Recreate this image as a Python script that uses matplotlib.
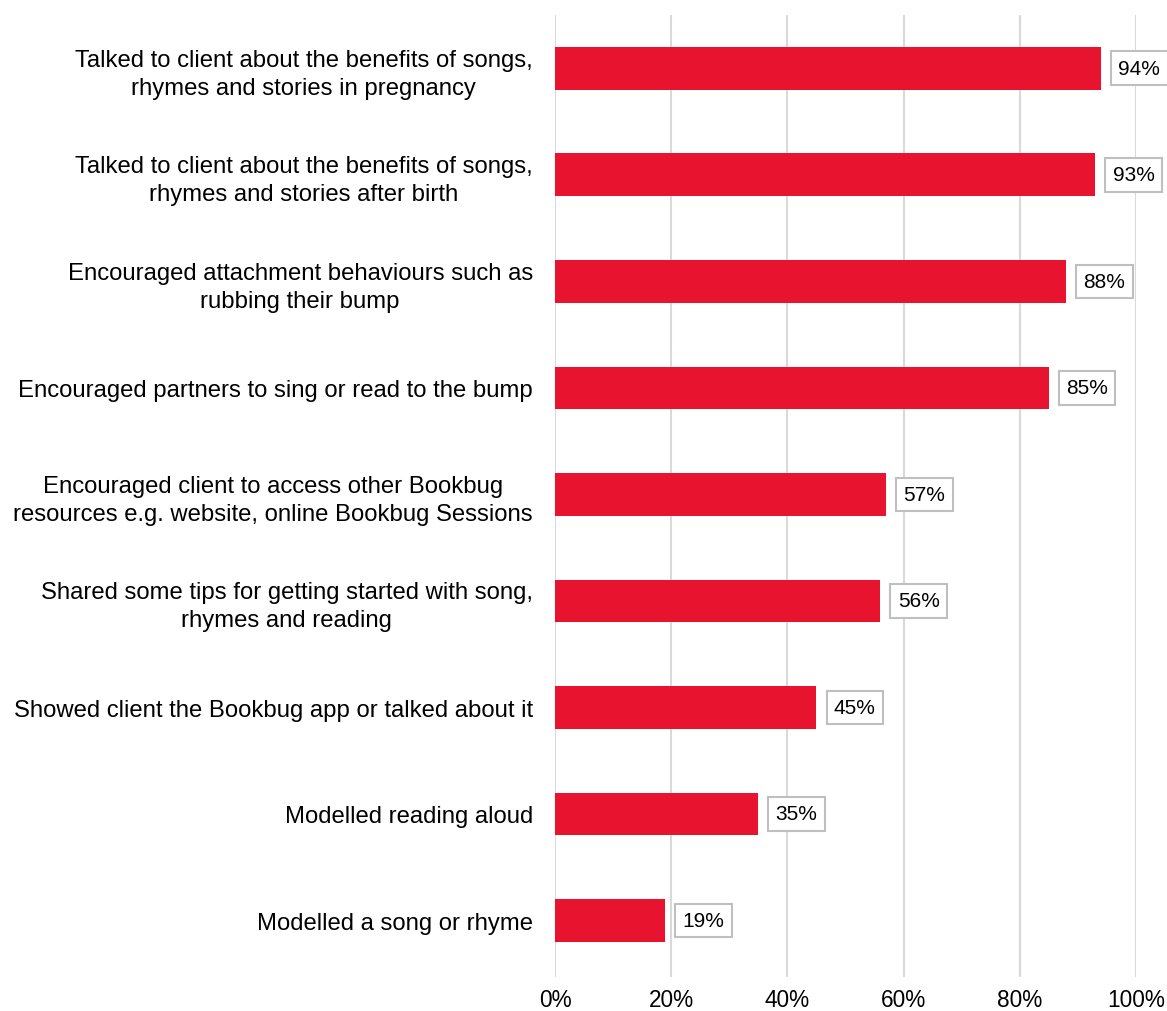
import numpy as np
import matplotlib
matplotlib.use("Agg")
import matplotlib.pyplot as plt
from matplotlib import ticker

plt.rcParams['font.family'] = ['Liberation Sans', 'DejaVu Sans']

categories = [
    "Talked to client about the benefits of songs,\nrhymes and stories in pregnancy",
    "Talked to client about the benefits of songs,\nrhymes and stories after birth",
    "Encouraged attachment behaviours such as\nrubbing their bump",
    "Encouraged partners to sing or read to the bump",
    "Encouraged client to access other Bookbug\nresources e.g. website, online Bookbug Sessions",
    "Shared some tips for getting started with song,\nrhymes and reading",
    "Showed client the Bookbug app or talked about it",
    "Modelled reading aloud",
    "Modelled a song or rhyme",
]
percents = [94, 93, 88, 85, 57, 56, 45, 35, 19]
x_ticks = [0, 20, 40, 60, 80, 100]

fig = plt.figure(figsize=(11.67, 10.12), dpi=100)
ax = fig.add_axes([0.4756, 0.0336, 0.4978, 0.9506])

ind = np.arange(len(categories))
bars = ax.barh(ind, percents, height=0.4, color="#E8132F", zorder=3)

ax.set_ylim(len(categories) - 0.47, -0.5)
ax.set_xlim(0, 100)
ax.set_xticks(x_ticks)
ax.xaxis.set_major_formatter(ticker.PercentFormatter(xmax=100, decimals=0))
ax.grid(axis="x", color="#D9D9D9", linewidth=1.5, zorder=0)
ax.set_yticks(ind)
ax.set_yticklabels(categories, fontsize=17.2)
for lbl in ax.get_yticklabels():
    lbl.set_multialignment("center")
    lbl.set_linespacing(1.35)
ax.tick_params(axis="y", length=0, pad=16)
ax.tick_params(axis="x", length=0, pad=8, labelsize=16.3)
for side in ["top", "right", "bottom", "left"]:
    ax.spines[side].set_visible(False)

for rect, v in zip(bars, percents):
    ax.annotate("{}%".format(v),
                xy=(rect.get_width(), rect.get_y() + rect.get_height() / 2),
                xytext=(12.5, 0), textcoords="offset points",
                ha="left", va="center", fontsize=15, zorder=4,
                bbox=dict(boxstyle="square,pad=0.35", facecolor="white",
                          edgecolor="#BFBFBF", linewidth=1.5))

fig.savefig("out.png", dpi=100)
